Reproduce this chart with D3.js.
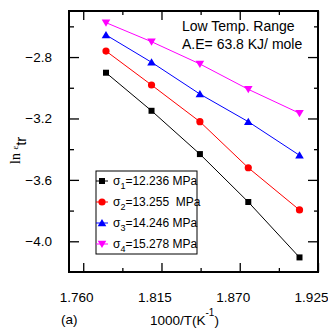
<!DOCTYPE html>
<html>
<head>
<meta charset="utf-8">
<script src="https://cdn.jsdelivr.net/npm/d3@7"></script>
<style>
  body { margin: 0; background: #fff; }
  svg { font-family: 'Liberation Sans', Arial, sans-serif; }
  text { white-space: pre; }
</style>
</head>
<body>
<div id="chart"></div>
<script>
// 1000/T values (K^-1)
const invTemp = [1.776, 1.808, 1.842, 1.876, 1.912];

// ln(strain rate) for each stress level
const sigma1 = [-2.902, -3.150, -3.432, -3.744, -4.105];
const sigma2 = [-2.761, -2.982, -3.221, -3.521, -3.796];
const sigma3 = [-2.656, -2.834, -3.041, -3.221, -3.440];
const sigma4 = [-2.576, -2.700, -2.845, -3.010, -3.166];

const seriesNames = ['1', '2', '3', '4'];
const seriesValues = ['=12.236 MPa', '=13.255  MPa', '=14.246 MPa', '=15.278 MPa'];
const seriesColors = ['#000000', '#ff0000', '#0000ff', '#ff00ff'];
const seriesShapes = ['square', 'circle', 'triangleUp', 'triangleDown'];

const xTicks = [1.760, 1.815, 1.870, 1.925];
const xMinor = [1.7875, 1.8425, 1.8975];
const yTicks = [-2.8, -3.2, -3.6, -4.0];
const yMinor = [-2.6, -3.0, -3.4, -3.8];

const annot = ['Low Temp. Range', 'A.E= 63.8 KJ/ mole'];

//
// Set-up
//
const width = 328, height = 329;
const frame = { left: 69, top: 11, right: 318, bottom: 272 };

const svg = d3.select('#chart').append('svg')
  .attr('width', width)
  .attr('height', height);

const xScale = d3.scaleLinear()
  .domain([1.75, 1.925])
  .range([frame.left, frame.right]);

const yScale = d3.scaleLinear()
  .domain([-4.2, -2.5])
  .range([frame.bottom, frame.top]);

//
// Axes
//
const fmtX = d3.format('.3f');
const fmtY = d3.format('.1f');

function styleAxis(g) {
  g.select('.domain').remove();
  g.selectAll('line').attr('stroke', '#000').attr('stroke-width', 1.3);
  g.selectAll('text')
    .attr('fill', '#000')
    .style('font-size', '13.5px');
}

// bottom
svg.append('g')
  .attr('transform', `translate(0, ${frame.bottom})`)
  .call(d3.axisBottom(xScale).tickValues(xTicks).tickSize(-9).tickPadding(20).tickFormat(fmtX))
  .call(styleAxis)
  .call(g => g.selectAll('text').attr('dx', -7));
svg.append('g')
  .attr('transform', `translate(0, ${frame.bottom})`)
  .call(d3.axisBottom(xScale).tickValues(xMinor).tickSize(-4).tickFormat(''))
  .call(styleAxis);

// top
svg.append('g')
  .attr('transform', `translate(0, ${frame.top})`)
  .call(d3.axisTop(xScale).tickValues(xTicks).tickSize(-9).tickFormat(''))
  .call(styleAxis);
svg.append('g')
  .attr('transform', `translate(0, ${frame.top})`)
  .call(d3.axisTop(xScale).tickValues(xMinor).tickSize(-4).tickFormat(''))
  .call(styleAxis);

// left
svg.append('g')
  .attr('transform', `translate(${frame.left}, 0)`)
  .call(d3.axisLeft(yScale).tickValues(yTicks).tickSize(-10).tickPadding(17).tickFormat(fmtY))
  .call(styleAxis);
svg.append('g')
  .attr('transform', `translate(${frame.left}, 0)`)
  .call(d3.axisLeft(yScale).tickValues(yMinor).tickSize(-5).tickFormat(''))
  .call(styleAxis);

// right
svg.append('g')
  .attr('transform', `translate(${frame.right}, 0)`)
  .call(d3.axisRight(yScale).tickValues(yTicks).tickSize(-10).tickFormat(''))
  .call(styleAxis);
svg.append('g')
  .attr('transform', `translate(${frame.right}, 0)`)
  .call(d3.axisRight(yScale).tickValues(yMinor).tickSize(-4).tickFormat(''))
  .call(styleAxis);

// frame
svg.append('rect')
  .attr('x', frame.left)
  .attr('y', frame.top)
  .attr('width', frame.right - frame.left)
  .attr('height', frame.bottom - frame.top)
  .attr('fill', 'none')
  .attr('stroke', '#000')
  .attr('stroke-width', 2);

//
// Markers
//
function markerPath(shape) {
  if (shape === 'square') return 'M-3,-3H3V3H-3Z';
  if (shape === 'triangleUp') return 'M0,-4L4.3,3.2H-4.3Z';
  if (shape === 'triangleDown') return 'M0,4L4.3,-3.2H-4.3Z';
  return d3.symbol(d3.symbolCircle, Math.PI * 3.6 * 3.6)();
}

const allSeries = [sigma1, sigma2, sigma3, sigma4];
const line = d3.line()
  .x(d => xScale(d[0]))
  .y(d => yScale(d[1]));

allSeries.forEach((vals, i) => {
  const pts = invTemp.map((x, j) => [x, vals[j]]);
  const g = svg.append('g').attr('class', `series s${i}`);
  g.append('path')
    .datum(pts)
    .attr('d', line)
    .attr('fill', 'none')
    .attr('stroke', seriesColors[i])
    .attr('stroke-width', 1);
  g.selectAll('path.mark')
    .data(pts)
    .enter().append('path')
      .attr('class', 'mark')
      .attr('transform', d => `translate(${xScale(d[0])}, ${yScale(d[1])})`)
      .attr('d', markerPath(seriesShapes[i]))
      .attr('fill', seriesColors[i]);
});

//
// Legend
//
const legend = svg.append('g')
  .attr('transform', 'translate(96, 171)');
legend.append('rect')
  .attr('width', 101)
  .attr('height', 83)
  .attr('fill', '#fff')
  .attr('stroke', '#000')
  .attr('stroke-width', 1);

seriesNames.forEach((name, i) => {
  const y = 10 + i * 21;
  const row = legend.append('g').attr('transform', `translate(0, ${y})`);
  row.append('line')
    .attr('x1', 0).attr('x2', 12)
    .attr('stroke', seriesColors[i])
    .attr('stroke-width', 1);
  row.append('path')
    .attr('transform', 'translate(6, 0)')
    .attr('d', markerPath(seriesShapes[i]))
    .attr('fill', seriesColors[i]);
  const t = row.append('text')
    .attr('x', 17)
    .attr('y', 4)
    .style('font-size', '12px')
    .attr('fill', '#000');
  t.append('tspan').text('σ');
  t.append('tspan').attr('dy', 4).style('font-size', '9px').text(name);
  t.append('tspan').attr('dy', -4).text(seriesValues[i]);
});

//
// Labels
//
annot.forEach((s, i) => {
  svg.append('text')
    .attr('x', 182)
    .attr('y', 31 + i * 18)
    .style('font-size', '14px')
    .attr('fill', '#000')
    .text(s);
});

// y title: ln ε_tr
const yTitle = svg.append('text')
  .attr('transform', 'translate(20, 164) rotate(-90)')
  .attr('fill', '#000')
  .style('font-size', '14px');
yTitle.append('tspan')
  .style('font-family', "'Liberation Serif', 'Times New Roman', serif")
  .text('ln ');
yTitle.append('tspan')
  .attr('dy', -2)
  .style('font-family', "'Liberation Serif', 'Times New Roman', serif")
  .style('font-size', '9px')
  .text('ε');
yTitle.append('tspan').attr('dy', 8).style('font-size', '15px').text('tr');

// x title
const xTitle = svg.append('text')
  .attr('x', 150)
  .attr('y', 325)
  .attr('fill', '#000')
  .style('font-size', '13.5px');
xTitle.append('tspan').text('1000/T(K');
xTitle.append('tspan').attr('dy', -9).style('font-size', '10px').text('-1');
xTitle.append('tspan').attr('dy', 9).text(')');

svg.append('text')
  .attr('x', 61)
  .attr('y', 324)
  .attr('fill', '#000')
  .style('font-size', '13.5px')
  .text('(a)');
</script>
</body>
</html>
